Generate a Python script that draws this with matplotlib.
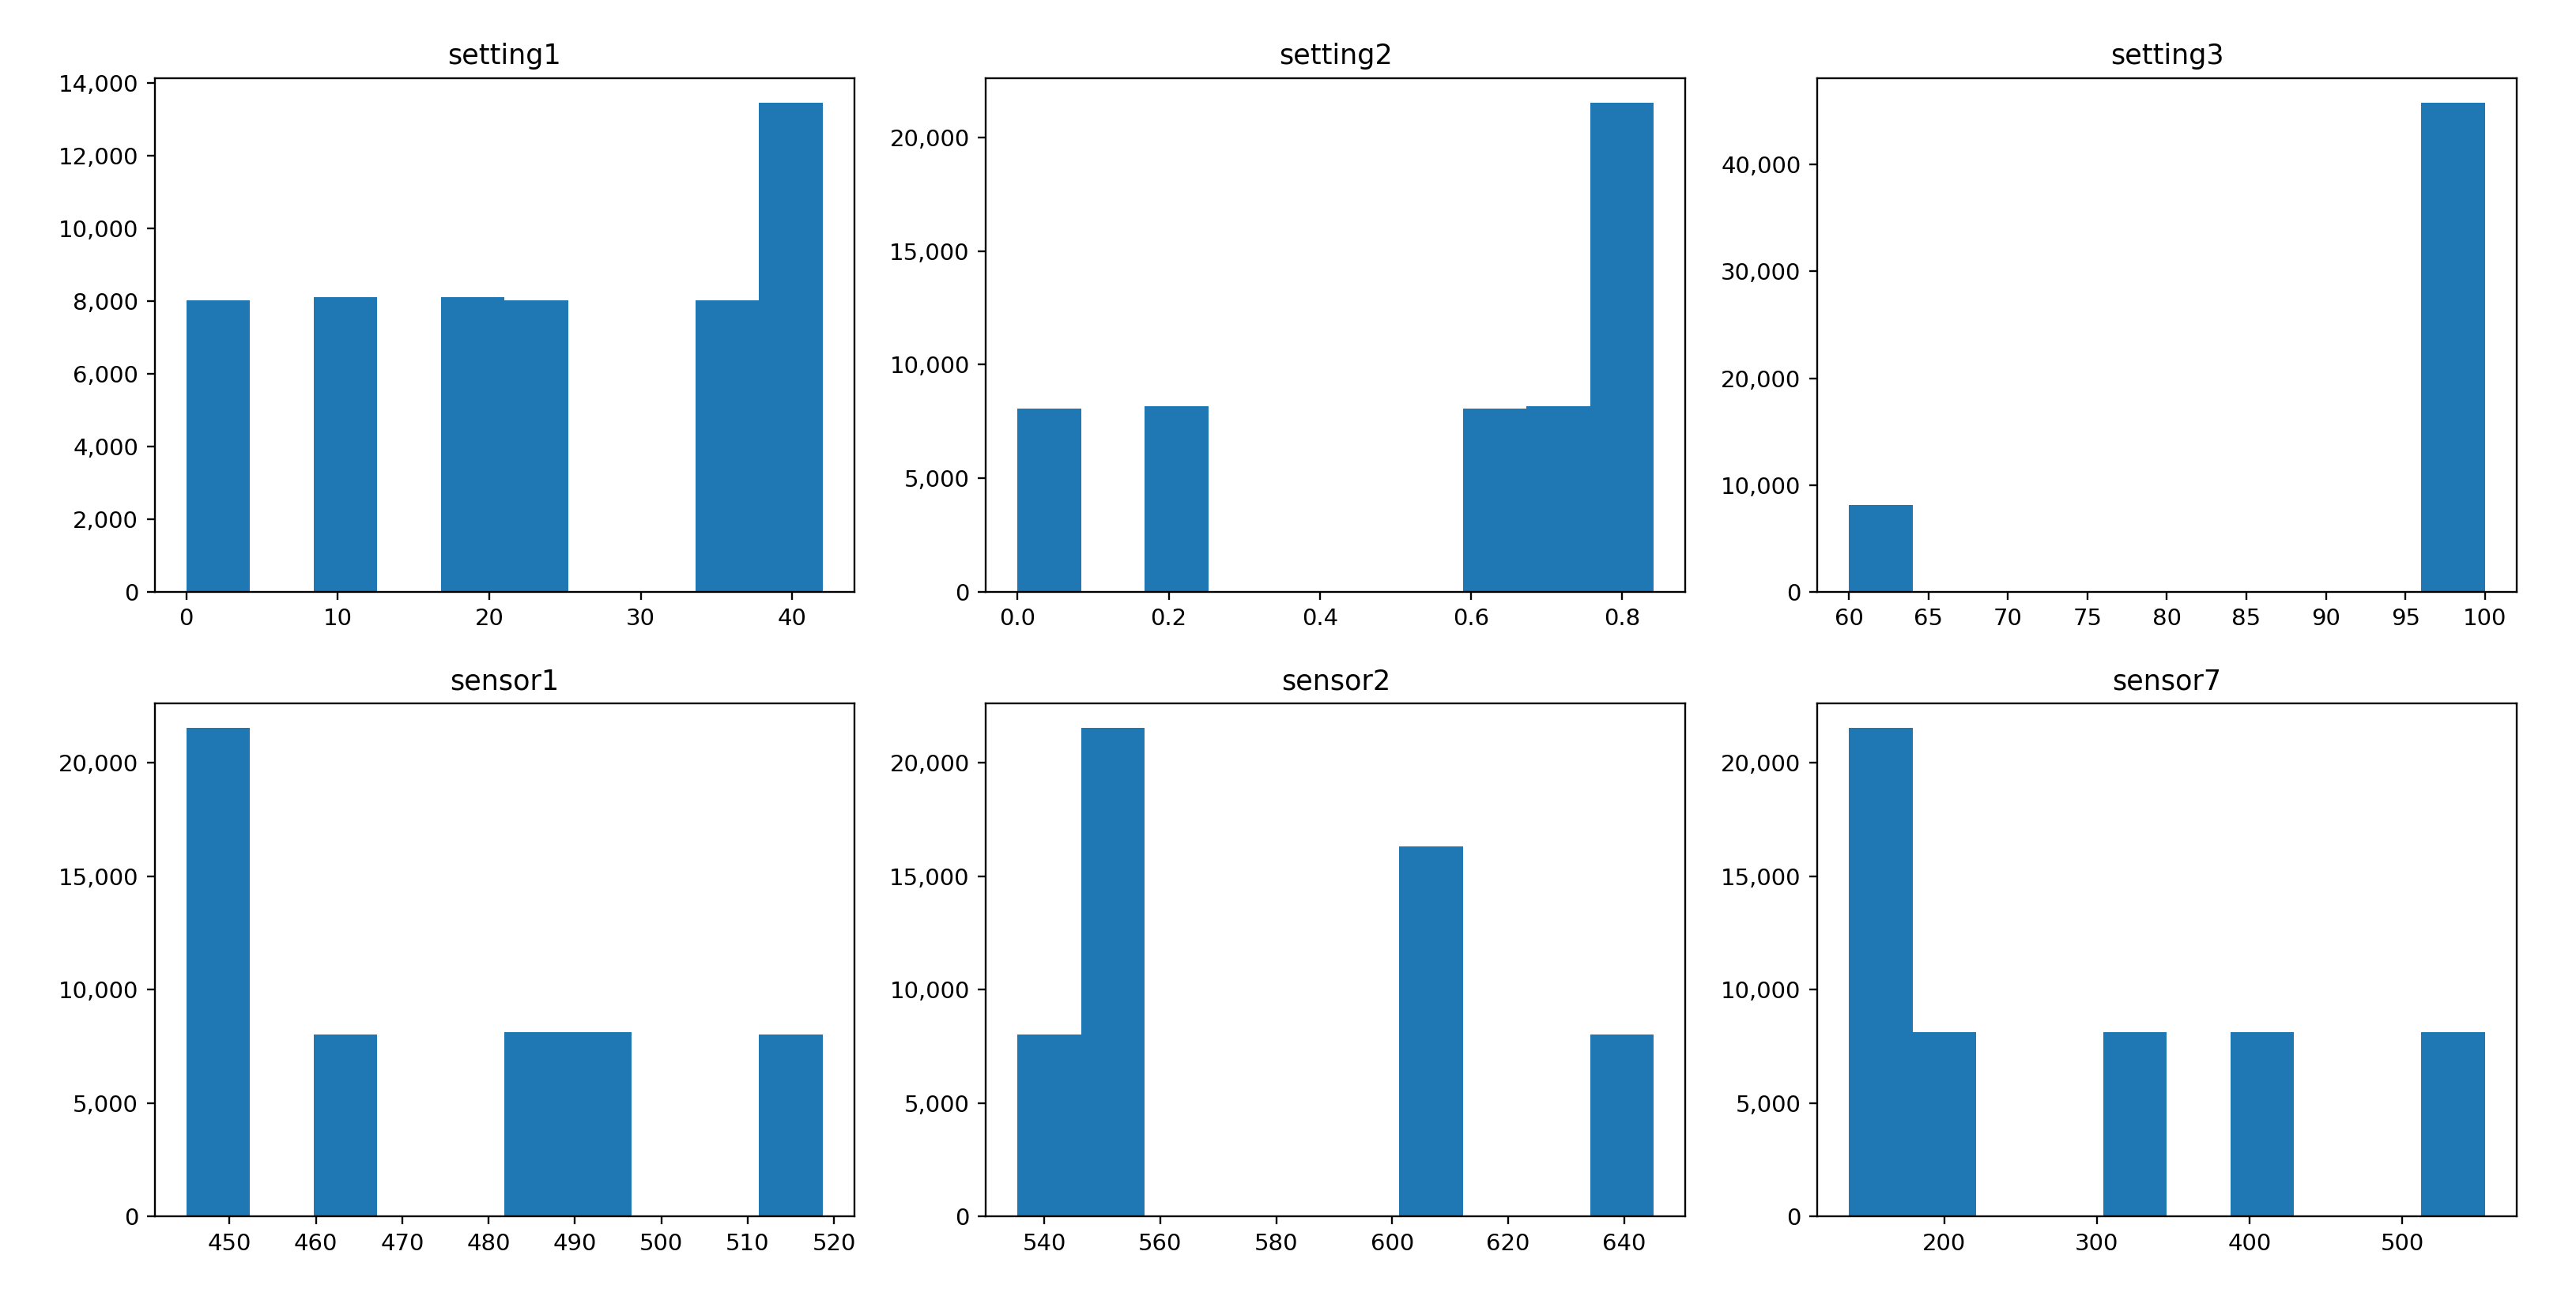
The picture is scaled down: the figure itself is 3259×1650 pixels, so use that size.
import numpy as np
import matplotlib
matplotlib.use("Agg")
import matplotlib.pyplot as plt
from matplotlib.ticker import StrMethodFormatter, MultipleLocator

# Histogram data: value range (10 equal bins) and bin counts
names = ["setting1", "setting2", "setting3", "sensor1", "sensor2", "sensor7"]

setting1_range = (0.0, 42.0)
setting1_counts = [8030, 0, 8110, 0, 8110, 8030, 0, 0, 8030, 13460]

setting2_range = (0.0, 0.842)
setting2_counts = [8060, 0, 8160, 0, 0, 0, 0, 8060, 8160, 21530]

setting3_range = (60.0, 100.0)
setting3_counts = [8100, 0, 0, 0, 0, 0, 0, 0, 0, 45800]

sensor1_range = (445.0, 518.67)
sensor1_counts = [21550, 0, 8040, 0, 0, 8140, 8140, 0, 0, 8040]

sensor2_range = (535.4, 645.1)
sensor2_counts = [8040, 21550, 0, 0, 0, 0, 16300, 0, 0, 8040]

sensor7_range = (137.6, 554.0)
sensor7_counts = [21550, 8140, 0, 0, 8140, 0, 8140, 0, 0, 8140]

xtick_steps = [10, 0.2, 5, 10, 20, 100]

ranges = [setting1_range, setting2_range, setting3_range,
          sensor1_range, sensor2_range, sensor7_range]
counts = [setting1_counts, setting2_counts, setting3_counts,
          sensor1_counts, sensor2_counts, sensor7_counts]

fig, axes = plt.subplots(2, 3, figsize=(3259 / 210, 1650 / 210), dpi=210)
fig.subplots_adjust(left=0.060, right=0.977, top=0.94, bottom=0.067,
                    wspace=0.188, hspace=0.217)

for ax, name, rng, cnt, step in zip(axes.flat, names, ranges, counts, xtick_steps):
    edges = np.linspace(rng[0], rng[1], len(cnt) + 1)
    ax.hist(edges[:-1], bins=edges, weights=cnt, color="C0")
    ax.set_title(name)
    ax.xaxis.set_major_locator(MultipleLocator(step))
    ax.yaxis.set_major_formatter(StrMethodFormatter("{x:,.0f}"))

fig.savefig("out.png", dpi=210)
